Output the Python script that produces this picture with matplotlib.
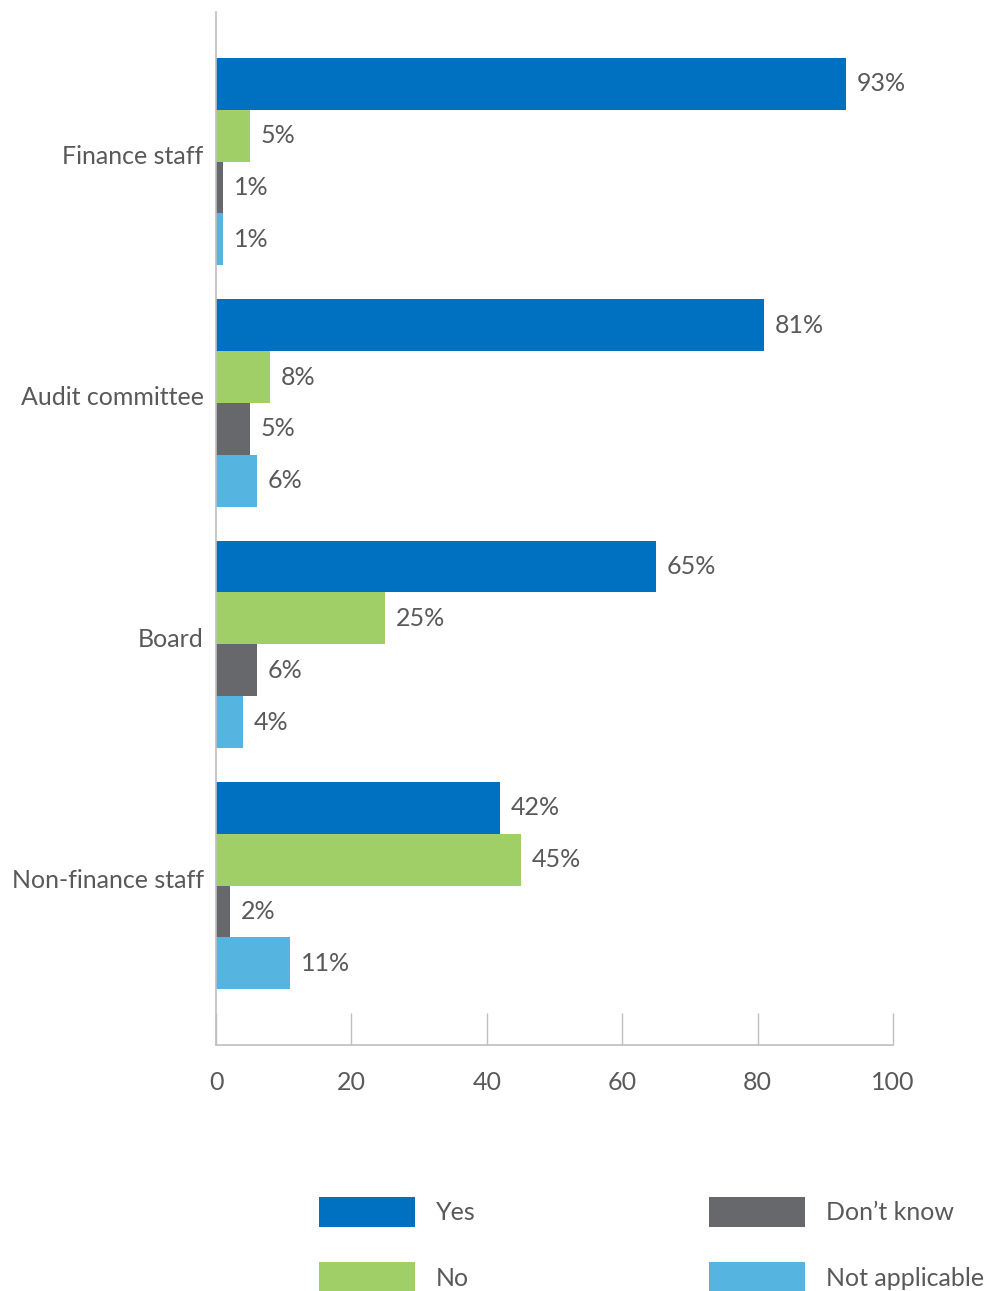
import numpy as np
import matplotlib.pyplot as plt
from matplotlib.patches import Patch

plt.rcParams['font.family'] = ['Lato', 'DejaVu Sans']

categories = ['Finance staff', 'Audit committee', 'Board', 'Non-finance staff']
series_names = ['Yes', 'No', 'Don\u2019t know', 'Not applicable']
yes = [93, 81, 65, 42]
no = [5, 8, 25, 45]
dont_know = [1, 5, 6, 2]
not_applicable = [1, 6, 4, 11]
x_ticks = [0, 20, 40, 60, 80, 100]

colors = ['#0070C0', '#A0CF67', '#67686B', '#55B5E0']
text_color = '#595959'
axis_color = '#BFBFBF'
fs = 18


def main():
    fig = plt.figure(figsize=(9.95, 12.91), dpi=100)
    ax = fig.add_axes([0.2171, 0.1906, 0.6804, 0.8001])

    series = [yes, no, dont_know, not_applicable]
    y = np.arange(len(categories))
    h = 0.2147
    offsets = (np.arange(len(series)) - 1.5) * h

    for vals, off, col in zip(series, offsets, colors):
        ax.barh(y + off, vals, height=h, color=col, linewidth=0)
        for yi, v in zip(y, vals):
            ax.text(v + 1.6, yi + off, f'{v}%', va='center', ha='left',
                    fontsize=fs, color=text_color)

    ax.set_xlim(0, 100)
    ax.set_ylim(3.66, -0.62)
    ax.set_xticks(x_ticks)
    ax.set_xticklabels([str(t) for t in x_ticks])
    ax.set_yticks(y - 0.03)
    ax.set_yticklabels(categories)

    for s in ['top', 'right']:
        ax.spines[s].set_visible(False)
    for s in ['left', 'bottom']:
        ax.spines[s].set_color(axis_color)
        ax.spines[s].set_linewidth(1.2)

    ax.tick_params(axis='x', direction='in', length=23, width=1, color=axis_color,
                   labelsize=fs, labelcolor=text_color, pad=19)
    ax.tick_params(axis='y', length=0, labelsize=fs, labelcolor=text_color, pad=9)

    handles = [Patch(facecolor=c, edgecolor='none') for c in colors]
    fig.legend(handles, series_names, loc='upper left',
               bbox_to_anchor=(319 / 995, 1 - 1197 / 1291), ncol=2, frameon=False,
               fontsize=fs, labelcolor=text_color, handlelength=3.84,
               handleheight=1.48, handletextpad=0.85, labelspacing=1.4,
               columnspacing=9.3, borderpad=0, borderaxespad=0)

    fig.savefig('out.png', dpi=100)


if __name__ == '__main__':
    main()
